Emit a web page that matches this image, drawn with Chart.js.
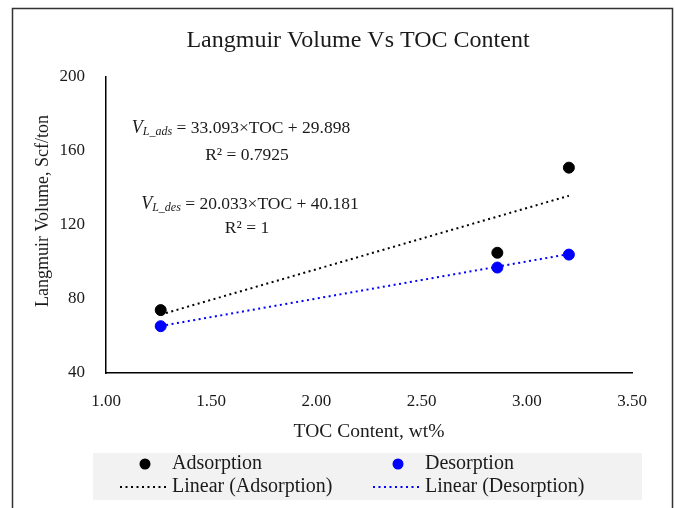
<!doctype html>
<html lang="en">
<head>
<meta charset="utf-8">
<title>Langmuir Volume Vs TOC Content</title>
<script src="https://cdn.jsdelivr.net/npm/chart.js"></script>
<style>
  body { margin: 0; background: #fff; }
  #wrap { width: 675px; height: 508px; }
</style>
</head>
<body>
<div id="wrap"><canvas id="chart" width="675" height="508"></canvas></div>
<script>
// data
const tocValues = [1.26, 2.86, 3.20];
const adsorptionValues = [74, 105, 151];
const desorptionValues = [65.3, 97.0, 104.0];

// trend line coefficients as printed on the chart
const adsFit = [33.093, 29.898];
const desFit = [20.033, 40.181];

const xTicks = [1.0, 1.5, 2.0, 2.5, 3.0, 3.5];
const yTicks = [40, 80, 120, 160, 200];

const FONT = "'Liberation Serif', 'Times New Roman', serif";
const TEXT = '#1a1a1a';

Chart.defaults.font.family = FONT;
Chart.defaults.color = TEXT;

function points(xs, ys) {
  return xs.map((x, i) => ({ x: x, y: ys[i] }));
}
function trend(fit) {
  const lo = Math.min(...tocValues), hi = Math.max(...tocValues);
  return [{ x: lo, y: fit[0] * lo + fit[1] }, { x: hi, y: fit[0] * hi + fit[1] }];
}

// frame, title, y title, equations and legend
const decor = {
  id: 'decor',
  beforeDraw(chart) {
    const ctx = chart.ctx;
    ctx.save();
    ctx.fillStyle = '#fff';
    ctx.fillRect(0, 0, chart.width, chart.height);
    ctx.strokeStyle = '#333';
    ctx.lineWidth = 1.5;
    ctx.strokeRect(12.5, 8.5, 660, 520);
    ctx.restore();
  },
  afterDraw(chart) {
    const ctx = chart.ctx;
    ctx.save();
    ctx.fillStyle = TEXT;
    ctx.textBaseline = 'middle';

    // title
    ctx.font = '24px ' + FONT;
    ctx.textAlign = 'center';
    ctx.fillText('Langmuir Volume Vs TOC Content', 358, 41);

    // y axis title
    ctx.save();
    ctx.translate(43, 211);
    ctx.rotate(-Math.PI / 2);
    ctx.font = '18px ' + FONT;
    ctx.fillText('Langmuir Volume, Scf/ton', 0, 0);
    ctx.restore();

    // equations
    function eq(cx, cy, sub, rest) {
      ctx.textAlign = 'left';
      ctx.font = 'italic 18px ' + FONT;
      const wV = ctx.measureText('V').width;
      ctx.font = 'italic 12px ' + FONT;
      const wS = ctx.measureText(sub).width;
      ctx.font = '17.5px ' + FONT;
      const wR = ctx.measureText(rest).width;
      let x = cx - (wV + wS + wR) / 2;
      ctx.font = 'italic 18px ' + FONT;
      ctx.fillText('V', x, cy);
      x += wV;
      ctx.font = 'italic 12px ' + FONT;
      ctx.fillText(sub, x, cy + 4);
      x += wS;
      ctx.font = '17.5px ' + FONT;
      ctx.fillText(rest, x, cy);
    }
    function centered(cx, cy, s) {
      ctx.font = '17.5px ' + FONT;
      ctx.textAlign = 'center';
      ctx.fillText(s, cx, cy);
    }
    eq(241, 128, 'L_ads', ' = ' + adsFit[0].toFixed(3) + '\u00d7TOC + ' + adsFit[1].toFixed(3));
    centered(247, 155, 'R\u00b2 = 0.7925');
    eq(250, 204, 'L_des', ' = ' + desFit[0].toFixed(3) + '\u00d7TOC + ' + desFit[1].toFixed(3));
    centered(247, 228, 'R\u00b2 = 1');

    // legend box
    ctx.fillStyle = '#f2f2f2';
    ctx.fillRect(93, 453, 549, 47);
    const cols = [120, 373];
    const rows = [464, 487];
    chart.data.datasets.forEach((ds, i) => {
      const col = cols[i % 2], row = rows[Math.floor(i / 2)];
      if (ds.showLine) {
        ctx.strokeStyle = ds.borderColor;
        ctx.lineWidth = ds.borderWidth;
        ctx.setLineDash(ds.borderDash);
        ctx.beginPath();
        ctx.moveTo(col, row);
        ctx.lineTo(col + 47, row);
        ctx.stroke();
        ctx.setLineDash([]);
      } else {
        ctx.fillStyle = ds.backgroundColor;
        ctx.beginPath();
        ctx.arc(col + 25, row, ds.pointRadius, 0, Math.PI * 2);
        ctx.fill();
      }
      ctx.fillStyle = TEXT;
      ctx.font = '20px ' + FONT;
      ctx.textAlign = 'left';
      ctx.fillText(ds.label, col + 52, row);
    });
    ctx.restore();
  }
};

new Chart(document.getElementById('chart'), {
  type: 'scatter',
  data: {
    datasets: [
      {
        label: 'Adsorption',
        data: points(tocValues, adsorptionValues),
        backgroundColor: '#000',
        borderColor: '#000',
        pointRadius: 5.5,
        showLine: false,
        order: 1
      },
      {
        label: 'Desorption',
        data: points(tocValues, desorptionValues),
        backgroundColor: '#0000ff',
        borderColor: '#0000ff',
        pointRadius: 5.5,
        showLine: false,
        order: 1
      },
      {
        label: 'Linear (Adsorption)',
        data: trend(adsFit),
        showLine: true,
        borderColor: '#000',
        borderWidth: 2,
        borderDash: [2, 3.5],
        pointRadius: 0,
        order: 2
      },
      {
        label: 'Linear (Desorption)',
        data: trend(desFit),
        showLine: true,
        borderColor: '#0000ff',
        borderWidth: 2,
        borderDash: [2, 3.5],
        pointRadius: 0,
        order: 2
      }
    ]
  },
  options: {
    responsive: false,
    animation: false,
    layout: { padding: { left: 12, top: 77, right: 43, bottom: 55 } },
    plugins: {
      legend: { display: false },
      tooltip: { enabled: false }
    },
    scales: {
      x: {
        type: 'linear',
        min: xTicks[0],
        max: xTicks[xTicks.length - 1],
        afterBuildTicks: s => { s.ticks = xTicks.map(v => ({ value: v })); },
        afterFit: s => { s.height = 80; },
        grid: { display: false, drawTicks: false },
        border: { color: '#000', width: 1.5 },
        ticks: {
          padding: 18,
          font: { size: 17 },
          color: TEXT,
          callback: v => Number(v).toFixed(2)
        },
        title: {
          display: true,
          text: 'TOC Content, wt%',
          font: { size: 19.5 },
          color: TEXT,
          padding: { top: 0, bottom: 9 }
        }
      },
      y: {
        type: 'linear',
        min: yTicks[0],
        max: yTicks[yTicks.length - 1],
        afterBuildTicks: s => { s.ticks = yTicks.map(v => ({ value: v })); },
        afterFit: s => { s.width = 94; },
        grid: { display: false, drawTicks: false },
        border: { color: '#000', width: 1.5 },
        ticks: {
          padding: 21,
          font: { size: 17 },
          color: TEXT
        },
        title: { display: false }
      }
    }
  },
  plugins: [decor]
});
</script>
</body>
</html>
